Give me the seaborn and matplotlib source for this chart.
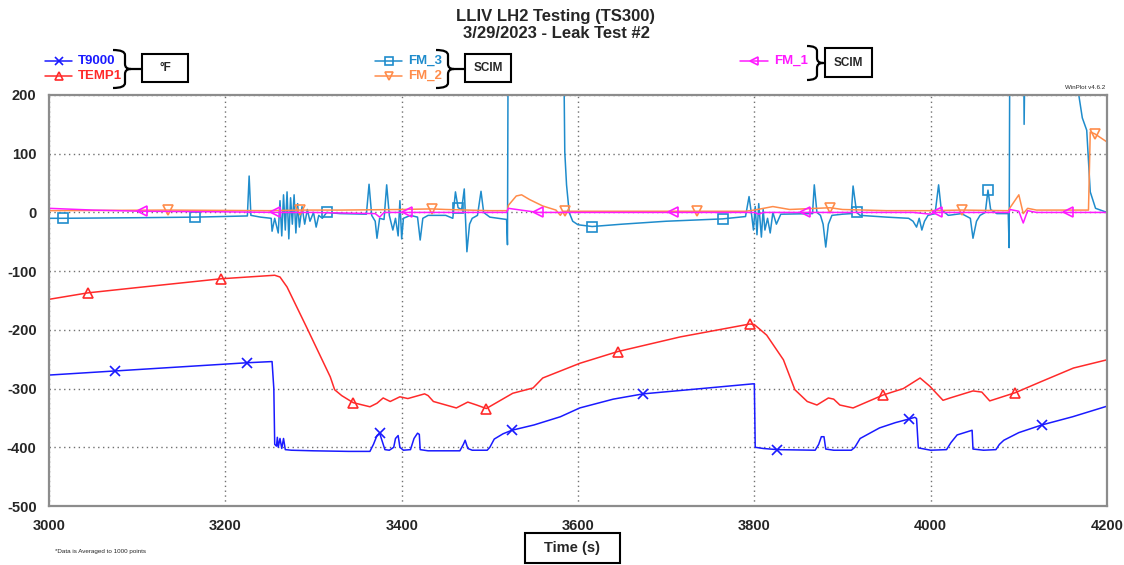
import numpy as np
import matplotlib
matplotlib.use("Agg")
import matplotlib.pyplot as plt
from matplotlib.lines import Line2D
from matplotlib.patches import Rectangle, PathPatch
from matplotlib.path import Path
import seaborn as sns

# ---------------- data ----------------
t9000_t = [3000, 3075, 3150, 3225, 3253, 3255, 3256, 3258, 3259, 3260, 3262, 3264, 3266, 3268, 3275,
           3300, 3340, 3364, 3368, 3372, 3375, 3378, 3381, 3386, 3391, 3393, 3396, 3398, 3402, 3410,
           3414, 3418, 3420, 3421, 3430, 3466, 3470, 3472, 3475, 3480, 3497, 3500, 3505, 3515, 3525,
           3550, 3580, 3602, 3640, 3674, 3740, 3798, 3800, 3801, 3810, 3826, 3869, 3873, 3876, 3879,
           3881, 3890, 3910, 3914, 3920, 3942, 3960, 3975, 3982, 3984, 3986, 4000, 4018, 4023, 4030,
           4047, 4048, 4060, 4074, 4078, 4083, 4100, 4126, 4161, 4200]
t9000_v = [-277, -270, -263, -256, -254, -300, -395, -398, -383, -400, -385, -402, -385, -404, -405,
           -406, -407, -407, -395, -380, -376, -390, -404, -405, -400, -385, -380, -400, -405, -404,
           -385, -376, -378, -404, -406, -406, -395, -388, -402, -405, -405, -400, -386, -377, -371,
           -362, -348, -333, -318, -309, -300, -292, -292, -400, -402, -404, -405, -395, -382, -382,
           -403, -405, -405, -400, -385, -367, -358, -352, -349, -351, -401, -405, -404, -392, -379,
           -371, -403, -405, -404, -395, -388, -375, -362, -348, -330]
t9000_mk = [3075, 3225, 3375, 3525, 3674, 3826, 3975, 4126]

temp1_t = [3000, 3044, 3100, 3195, 3256, 3262, 3270, 3292, 3319, 3324, 3332, 3345, 3364, 3372, 3379,
           3387, 3398, 3407, 3426, 3430, 3436, 3462, 3475, 3485, 3496, 3526, 3549, 3560, 3602, 3645,
           3716, 3795, 3800, 3814, 3833, 3846, 3860, 3871, 3884, 3890, 3897, 3912, 3946, 3969, 3988,
           3999, 4014, 4022, 4048, 4058, 4067, 4096, 4124, 4162, 4200]
temp1_v = [-148, -137, -128, -113, -107, -110, -127, -195, -280, -302, -312, -324, -331, -325, -316,
           -322, -314, -317, -309, -312, -322, -333, -323, -328, -334, -308, -299, -282, -257, -237,
           -212, -190, -191, -209, -251, -302, -322, -328, -316, -318, -328, -333, -311, -300, -282,
           -296, -320, -316, -304, -306, -321, -307, -289, -265, -251]
temp1_mk = [3044, 3195, 3345, 3496, 3645, 3795, 3946, 4096]

fm3_t = [3000, 3016, 3100, 3166, 3225, 3227, 3229, 3240, 3252, 3253, 3256, 3260, 3262, 3264, 3266,
         3268, 3270, 3272, 3274, 3276, 3278, 3280, 3282, 3284, 3287, 3290, 3293, 3296, 3300, 3303,
         3306, 3310, 3315, 3330, 3360, 3363, 3366, 3370, 3372, 3375, 3380, 3383, 3386, 3390, 3393,
         3396, 3398, 3400, 3402, 3410, 3418, 3421, 3424, 3430, 3450, 3458, 3461, 3464, 3468, 3471,
         3474, 3477, 3480, 3486, 3490, 3493, 3500, 3519, 3520, 3521, 3583, 3585, 3587, 3590, 3594,
         3600, 3616, 3650, 3700, 3764, 3790, 3794, 3797, 3799, 3801, 3803, 3805, 3808, 3810, 3812,
         3815, 3818, 3821, 3825, 3830, 3866, 3868, 3871, 3875, 3878, 3881, 3884, 3888, 3900, 3910,
         3912, 3916, 3920, 3950, 3975, 3980, 3984, 3987, 3990, 3993, 3997, 4005, 4009, 4012, 4020,
         4035, 4045, 4048, 4052, 4056, 4062, 4065, 4068, 4075, 4088, 4089, 4090, 4105, 4106, 4108,
         4166, 4168, 4172, 4177, 4181, 4187, 4200]
fm3_v = [-10, -10, -9, -8, -6, 62, -5, -8, -10, -32, -10, -35, 20, -40, 30,
         -30, 35, -45, 25, -20, 30, -35, 15, -25, 10, -20, 5, -15, 0, -25,
         -5, -10, 0, -2, -3, 48, -5, -15, -44, -10, -12, 47, -5, -30, -10,
         -40, 20, -45, -10, -5, -8, -47, -10, -5, -5, -10, 35, 8, 5, 40,
         -67, -20, -10, -5, 36, 0, -8, -12, -55, 400, 400, 103, 47, 0, -15,
         -21, -24, -20, -15, -11, -7, 27, -5, -30, 10, -38, 15, -42, 5, -30,
         -10, -35, 0, -20, -3, -2, 47, 0, -5, -20, -59, -20, -5, -3, -2,
         45, 0, -5, -8, -10, -15, -25, -10, -30, -15, -5, -2, 47, 5, -5,
         -2, -10, -44, -15, -5, 0, 38, 5, -2, -2, -60, 400, 400, 150, 400,
         400, 200, 161, 140, 35, 7, 0]
fm3_mk = [3016, 3166, 3315, 3464, 3616, 3764, 3916, 4065]

fm2_t = [3000, 3135, 3250, 3285, 3330, 3400, 3434, 3450, 3500, 3520, 3521, 3530, 3536, 3545, 3560,
         3575, 3580, 3583, 3585, 3650, 3735, 3790, 3800, 3821, 3840, 3886, 3900, 3950, 4000, 4035,
         4088, 4090, 4100, 4105, 4110, 4120, 4179, 4181, 4186, 4200]
fm2_v = [3, 4, 3, 4, 4, 5, 6, 5, 3, 3, 12, 28, 30, 22, 11,
         4, -5, 2, 2, 2, 2, 2, 4, 10, 5, 8, 5, 3, 3, 4,
         3, 8, 30, -2, 7, 4, 4, 137, 134, 120]
fm2_mk = [3135, 3285, 3434, 3585, 3735, 3886, 4035, 4186]

fm1_t = [3000, 3050, 3105, 3200, 3256, 3300, 3370, 3375, 3380, 3406, 3500, 3519, 3521, 3540, 3555,
         3600, 3708, 3800, 3805, 3810, 3857, 3980, 4000, 4005, 4007, 4089, 4090, 4100, 4105, 4110,
         4120, 4156, 4200]
fm1_v = [7, 4, 2, 1, 0, 0, -2, -8, 0, 0, 0, 0, 7, 3, 0,
         0, 0, 0, -3, 0, 0, 0, -3, 0, 0, 0, 5, 2, -18, 3,
         0, 0, 0]
fm1_mk = [3105, 3256, 3406, 3555, 3708, 3857, 4007, 4156]

x_ticks = [3000, 3200, 3400, 3600, 3800, 4000, 4200]
y_ticks = [200, 100, 0, -100, -200, -300, -400, -500]

title_lines = ["LLIV LH2 Testing (TS300)", "3/29/2023 - Leak Test #2"]

# ---------------- style ----------------
sns.set_style("white")
plt.rcParams['font.family'] = ['Liberation Sans', 'DejaVu Sans']

W, H = 1124, 565
fig = plt.figure(figsize=(W / 100, H / 100), dpi=100)
ax = fig.add_axes([49 / W, 1 - 506 / H, (1107 - 49) / W, (506 - 95) / H])

C_T9000 = "#1a1aff"
C_TEMP1 = "#ff2a2a"
C_FM3 = "#1f8ccc"
C_FM2 = "#ff8c4a"
C_FM1 = "#ff1aff"


def draw(ts, vs, mk, color, marker, ms=7):
    idx = [ts.index(m) for m in mk]
    sns.lineplot(x=np.array(ts, float), y=np.array(vs, float), ax=ax, estimator=None, sort=False,
                 color=color, linewidth=1.1, marker=marker, markevery=idx, markersize=ms,
                 markerfacecolor='none', markeredgecolor=color, markeredgewidth=1.2)


draw(fm3_t, fm3_v, fm3_mk, C_FM3, 's', 7)
draw(fm2_t, fm2_v, fm2_mk, C_FM2, 'v', 7)
draw(fm1_t, fm1_v, fm1_mk, C_FM1, '<', 7)
draw(temp1_t, temp1_v, temp1_mk, C_TEMP1, '^', 7)
draw(t9000_t, t9000_v, t9000_mk, C_T9000, 'x', 7)

ax.set_xlim(3000, 4200)
ax.set_ylim(-500, 200)
ax.set_xticks(x_ticks)
ax.set_yticks(y_ticks)
ax.set_xticklabels([str(v) for v in x_ticks], fontsize=10.5, fontweight='bold')
ax.set_yticklabels([str(v) for v in y_ticks], fontsize=10.5, fontweight='bold')
ax.tick_params(direction='out', length=4, width=1, color='#888888', pad=5)
ax.grid(True, color='#707070', linestyle=(0, (1, 2.5)), linewidth=1)
for s in ax.spines.values():
    s.set_color('#8c8c8c')
    s.set_linewidth(1.6)
ax.set_xlabel("")
ax.set_ylabel("")


def fx(px):
    return px / W


def fy(py):
    return 1 - py / H


# title
fig.text(fx(556), fy(16), title_lines[0], ha='center', va='center', fontsize=12, fontweight='bold')
fig.text(fx(556), fy(33), title_lines[1], ha='center', va='center', fontsize=12, fontweight='bold')


def legend_entry(x0, x1, y, color, marker, label):
    fig.add_artist(Line2D([fx(x0), fx(x1)], [fy(y), fy(y)], color=color, linewidth=1.1,
                          transform=fig.transFigure))
    fig.add_artist(Line2D([fx((x0 + x1) / 2)], [fy(y)], color=color, marker=marker, markersize=6,
                          markerfacecolor='none', markeredgecolor=color, markeredgewidth=1.2,
                          transform=fig.transFigure))
    fig.text(fx(x1 + 6), fy(y), label, color=color, ha='left', va='center', fontsize=9.5,
             fontweight='bold')


def brace(x, xm, xtip, ytop, ybot, boxx):
    ymid = (ytop + ybot) / 2
    r = 5
    verts = [(x, ytop), (xm, ytop), (xm, ytop + r), (xm, ymid - r), (xm, ymid), (xtip, ymid),
             (xm, ymid), (xm, ymid + r), (xm, ybot - r), (xm, ybot), (x, ybot)]
    codes = [Path.MOVETO, Path.CURVE3, Path.CURVE3, Path.LINETO, Path.CURVE3, Path.CURVE3,
             Path.CURVE3, Path.CURVE3, Path.LINETO, Path.CURVE3, Path.CURVE3]
    verts = [(fx(a), fy(b)) for a, b in verts]
    fig.add_artist(PathPatch(Path(verts, codes), facecolor='none', edgecolor='black', linewidth=1.6,
                             transform=fig.transFigure))
    fig.add_artist(Line2D([fx(xtip), fx(boxx)], [fy(ymid), fy(ymid)], color='black', linewidth=1.6,
                          transform=fig.transFigure))


def box(x0, y0, x1, y1, label, fs=8.5):
    fig.add_artist(Rectangle((fx(x0), fy(y1)), fx(x1) - fx(x0), fy(y0) - fy(y1), facecolor='white',
                             edgecolor='black', linewidth=1.5, transform=fig.transFigure))
    fig.text(fx((x0 + x1) / 2), fy((y0 + y1) / 2), label, ha='center', va='center', fontsize=fs,
             fontweight='bold')


legend_entry(45, 72, 61, C_T9000, 'x', "T9000")
legend_entry(45, 72, 76, C_TEMP1, '^', "TEMP1")
brace(113, 125, 131, 50, 88, 142)
box(142, 54, 188, 82, "°F")

legend_entry(375, 402, 61, C_FM3, 's', "FM_3")
legend_entry(375, 402, 76, C_FM2, 'v', "FM_2")
brace(436, 448, 454, 50, 88, 465)
box(465, 54, 511, 82, "SCIM")

legend_entry(740, 768, 61, C_FM1, '<', "FM_1")
brace(807, 817, 823, 46, 80, 825)
box(825, 48, 872, 77, "SCIM")

# x label box
box(525, 533, 620, 563, "Time (s)", fs=10.5)

fig.text(fx(1105), fy(90), "WinPlot v4.6.2", ha='right', va='bottom', fontsize=4.5)
fig.text(fx(55), fy(551), "*Data is Averaged to 1000 points", ha='left', va='center', fontsize=4.5)

fig.savefig("out.png", dpi=100)
